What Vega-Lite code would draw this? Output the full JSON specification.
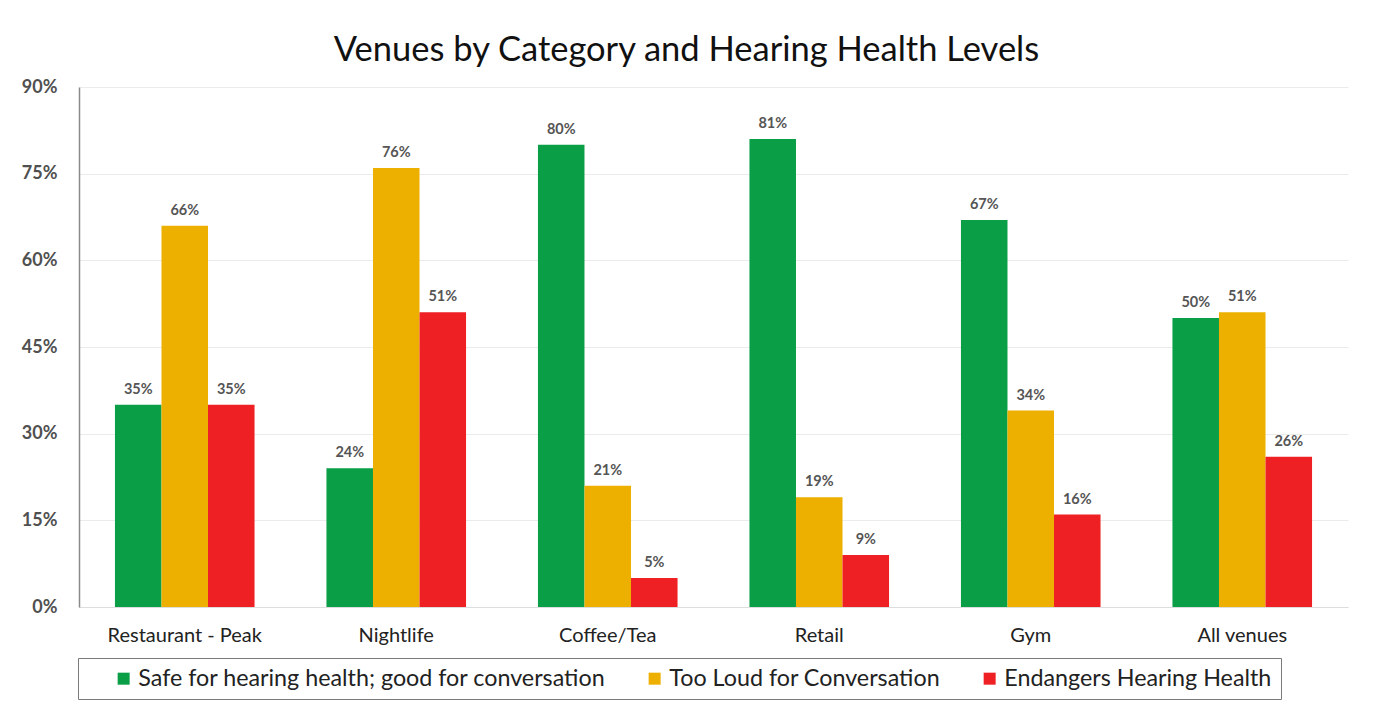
{
  "$schema": "https://vega.github.io/schema/vega-lite/v6.json",
  "autosize": {"type": "none"},
  "width": 1269,
  "height": 520,
  "padding": {"left": 79, "top": 87, "right": 26, "bottom": 98},
  "background": "white",
  "title": {
    "text": "Venues by Category and Hearing Health Levels",
    "font": "Lato",
    "fontSize": 34.5,
    "fontWeight": "normal",
    "color": "#111111",
    "anchor": "middle",
    "baseline": "alphabetic",
    "offset": 24,
    "dx": -27,
    "dy": 41
  },
  "data": {
    "values": [
      {"venue": "Restaurant - Peak", "series": "Safe for hearing health; good for conversation", "value": 0.35},
      {"venue": "Restaurant - Peak", "series": "Too Loud for Conversation", "value": 0.66},
      {"venue": "Restaurant - Peak", "series": "Endangers Hearing Health", "value": 0.35},
      {"venue": "Nightlife", "series": "Safe for hearing health; good for conversation", "value": 0.24},
      {"venue": "Nightlife", "series": "Too Loud for Conversation", "value": 0.76},
      {"venue": "Nightlife", "series": "Endangers Hearing Health", "value": 0.51},
      {"venue": "Coffee/Tea", "series": "Safe for hearing health; good for conversation", "value": 0.80},
      {"venue": "Coffee/Tea", "series": "Too Loud for Conversation", "value": 0.21},
      {"venue": "Coffee/Tea", "series": "Endangers Hearing Health", "value": 0.05},
      {"venue": "Retail", "series": "Safe for hearing health; good for conversation", "value": 0.81},
      {"venue": "Retail", "series": "Too Loud for Conversation", "value": 0.19},
      {"venue": "Retail", "series": "Endangers Hearing Health", "value": 0.09},
      {"venue": "Gym", "series": "Safe for hearing health; good for conversation", "value": 0.67},
      {"venue": "Gym", "series": "Too Loud for Conversation", "value": 0.34},
      {"venue": "Gym", "series": "Endangers Hearing Health", "value": 0.16},
      {"venue": "All venues", "series": "Safe for hearing health; good for conversation", "value": 0.50},
      {"venue": "All venues", "series": "Too Loud for Conversation", "value": 0.51},
      {"venue": "All venues", "series": "Endangers Hearing Health", "value": 0.26}
    ]
  },
  "encoding": {
    "x": {
      "field": "venue",
      "type": "nominal",
      "sort": null,
      "scale": {"paddingInner": 0.34, "paddingOuter": 0.17},
      "axis": {
        "title": null,
        "labelAngle": 0,
        "labelFont": "Lato",
        "labelFontSize": 20,
        "labelColor": "#222222",
        "labelPadding": 18,
        "ticks": false,
        "domainColor": "#dddddd",
        "domainWidth": 1
      }
    },
    "xOffset": {
      "field": "series",
      "type": "nominal",
      "sort": ["Safe for hearing health; good for conversation", "Too Loud for Conversation", "Endangers Hearing Health"],
      "scale": {"paddingInner": 0, "paddingOuter": 0}
    },
    "y": {
      "field": "value",
      "type": "quantitative",
      "scale": {"domain": [0, 0.9], "nice": false},
      "axis": {
        "title": null,
        "values": [0, 0.15, 0.3, 0.45, 0.6, 0.75, 0.9],
        "format": ".0%",
        "labelFont": "Lato",
        "labelFontSize": 18,
        "labelFontWeight": "bold",
        "labelColor": "#505050",
        "labelPadding": 22,
        "ticks": false,
        "domainColor": "#8a8a8a",
        "domainWidth": 1.5,
        "gridColor": "#ebebeb",
        "gridWidth": 1
      }
    }
  },
  "layer": [
    {
      "mark": {"type": "bar"},
      "encoding": {
        "color": {
          "field": "series",
          "type": "nominal",
          "sort": ["Safe for hearing health; good for conversation", "Too Loud for Conversation", "Endangers Hearing Health"],
          "scale": {
            "domain": ["Safe for hearing health; good for conversation", "Too Loud for Conversation", "Endangers Hearing Health"],
            "range": ["#0A9E47", "#EDB000", "#EE2024"]
          },
          "legend": {
            "title": null,
            "orient": "none",
            "direction": "horizontal",
            "legendX": -1,
            "legendY": 571,
            "padding": 9,
            "strokeColor": "#7a7a7a",
            "fillColor": "white",
            "symbolType": "square",
            "symbolSize": 144,
            "symbolStrokeWidth": 0,
            "symbolOpacity": 1,
            "symbolOffset": 25,
            "labelOffset": 3,
            "columnPadding": 12,
            "labelFont": "Lato",
            "labelFontSize": 23.3,
            "labelColor": "#222222",
            "labelLimit": 0,
            "labelExpr": "indexof(datum.label, 'Endangers') >= 0 ? datum.label + '\u2003\u2003\u2003' : datum.label"
          }
        }
      }
    },
    {
      "mark": {
        "type": "text",
        "baseline": "alphabetic",
        "dy": -11,
        "font": "Lato",
        "fontSize": 14.5,
        "fontWeight": "bold",
        "color": "#555555"
      },
      "encoding": {
        "text": {"field": "value", "type": "quantitative", "format": ".0%"}
      }
    }
  ],
  "config": {
    "view": {"stroke": null}
  }
}
